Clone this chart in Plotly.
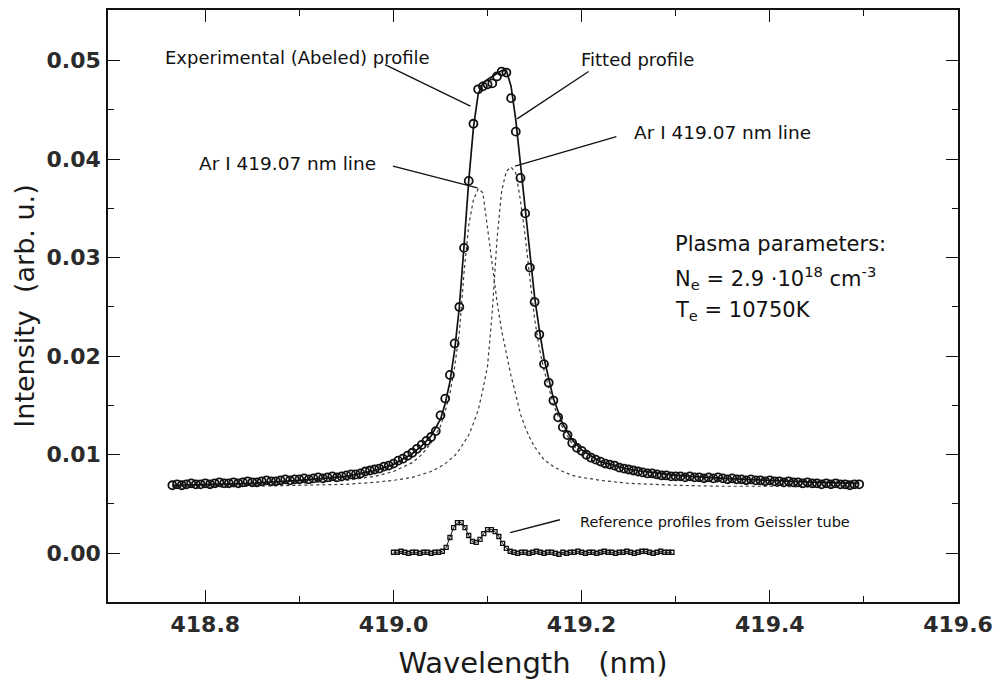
import numpy as np
import plotly.graph_objects as go

# ---- Measured (Abel-inverted) Ar I profile, sampled every 0.005 nm ----
exp_start = 418.765
exp_step = 0.005
exp_intensity = [
    0.0069, 0.0070, 0.0069, 0.0070, 0.0071, 0.0070, 0.0070, 0.0071, 0.0070, 0.0071,
    0.0072, 0.0071, 0.0071, 0.0072, 0.0071, 0.0072, 0.0073, 0.0072, 0.0072, 0.0073,
    0.0074, 0.0073, 0.0073, 0.0074, 0.0075, 0.0074, 0.0075, 0.0075, 0.0076, 0.0075,
    0.0076, 0.0077, 0.0076, 0.0077, 0.0078, 0.0077, 0.0078, 0.0079, 0.0080, 0.0080,
    0.0081, 0.0083, 0.0084, 0.0085, 0.0086, 0.0088, 0.0089, 0.0091, 0.0094, 0.0096,
    0.0099, 0.0102, 0.0106, 0.0110, 0.0114, 0.0118, 0.0124, 0.0140, 0.0157, 0.0181,
    0.0213, 0.0250, 0.0310, 0.0378, 0.0436, 0.0471, 0.0474, 0.0476, 0.0477, 0.0484,
    0.0489, 0.0488, 0.0462, 0.0428, 0.0381, 0.0345, 0.0290, 0.0255, 0.0222, 0.0192,
    0.0173, 0.0155, 0.0138, 0.0128, 0.0120, 0.0112, 0.0107, 0.0104, 0.0100, 0.0097,
    0.0095, 0.0093, 0.0091, 0.0090, 0.0089, 0.0087, 0.0086, 0.0085, 0.0084, 0.0083,
    0.0082, 0.0081, 0.0081, 0.0080, 0.0079, 0.0079, 0.0078, 0.0078, 0.0078, 0.0077,
    0.0078, 0.0077, 0.0077, 0.0076, 0.0077, 0.0076, 0.0077, 0.0076, 0.0075, 0.0076,
    0.0075, 0.0075, 0.0074, 0.0075, 0.0074, 0.0074, 0.0073, 0.0074, 0.0073, 0.0073,
    0.0072, 0.0073, 0.0072, 0.0072, 0.0071, 0.0072, 0.0071, 0.0071, 0.0070, 0.0071,
    0.0070, 0.0071, 0.0070, 0.0070, 0.0069, 0.0070, 0.0070,
]
exp_wl = np.round(exp_start + exp_step * np.arange(len(exp_intensity)), 4)

# ---- Fitted profile and its two line components ----
model_wl = [
    418.765, 418.80, 418.85, 418.90, 418.95, 418.98, 419.00, 419.02, 419.03, 419.04,
    419.05, 419.055, 419.06, 419.065, 419.07, 419.075, 419.08, 419.085, 419.09, 419.095,
    419.10, 419.105, 419.11, 419.115, 419.12, 419.125, 419.13, 419.135, 419.14, 419.145,
    419.15, 419.155, 419.16, 419.17, 419.18, 419.19, 419.20, 419.22, 419.25, 419.30,
    419.35, 419.40, 419.45, 419.495,
]
fit_profile = [
    0.0069, 0.0070, 0.0071, 0.0074, 0.0078, 0.0084, 0.0090, 0.0101, 0.0109, 0.0119,
    0.0136, 0.0152, 0.0174, 0.0206, 0.0250, 0.0312, 0.0378, 0.0432, 0.0466, 0.0477,
    0.0481, 0.0484, 0.0487, 0.0490, 0.0490, 0.0474, 0.0440, 0.0394, 0.0348, 0.0300,
    0.0260, 0.0227, 0.0198, 0.0157, 0.0131, 0.0115, 0.0105, 0.0093, 0.0085, 0.0079,
    0.0076, 0.0074, 0.0072, 0.0071,
]
line_left = [
    0.0068, 0.0069, 0.0069, 0.0071, 0.0074, 0.0078, 0.0083, 0.0092, 0.0100, 0.0112,
    0.0129, 0.0144, 0.0162, 0.0189, 0.0224, 0.0285, 0.0333, 0.0359, 0.0370, 0.0366,
    0.0330, 0.0293, 0.0256, 0.0226, 0.0202, 0.0180, 0.0161, 0.0141, 0.0128, 0.0117,
    0.0108, 0.0101, 0.0095, 0.0088, 0.0083, 0.0079, 0.0077, 0.0074, 0.0071, 0.0069,
    0.0068, 0.0068, 0.0067, 0.0067,
]
line_right = [
    0.0067, 0.0067, 0.0068, 0.0069, 0.0070, 0.0072, 0.0074, 0.0077, 0.0080, 0.0083,
    0.0088, 0.0091, 0.0095, 0.0099, 0.0105, 0.0112, 0.0120, 0.0132, 0.0145, 0.0166,
    0.0190, 0.0245, 0.0318, 0.0368, 0.0388, 0.0392, 0.0386, 0.0358, 0.0322, 0.0279,
    0.0238, 0.0208, 0.0186, 0.0151, 0.0127, 0.0111, 0.0100, 0.0089, 0.0081, 0.0075,
    0.0072, 0.0070, 0.0069, 0.0068,
]

# ---- Geissler-tube reference profile, sampled every 0.004 nm ----
ref_start = 419.000
ref_step = 0.004
ref_intensity = [
    0.0001, 0.0001, 0.0002, 0.0001, 0.0000, 0.0001, 0.0001, 0.0000, 0.0001, 0.0001,
    0.0000, 0.0001, 0.0001, 0.0002, 0.0006, 0.0016, 0.0026, 0.0031, 0.0031, 0.0026,
    0.0018, 0.0012, 0.0011, 0.0014, 0.0020, 0.0024, 0.0024, 0.0022, 0.0017, 0.0010,
    0.0005, 0.0002, 0.0001, 0.0000, 0.0001, 0.0001, 0.0000, 0.0001, 0.0002, 0.0001,
    0.0000, 0.0001, 0.0001, 0.0000, -0.0001, 0.0001, 0.0000, 0.0001, 0.0001, 0.0002,
    0.0001, 0.0000, 0.0001, 0.0001, 0.0000, 0.0001, 0.0002, 0.0001, 0.0001, 0.0000,
    0.0001, 0.0001, 0.0002, 0.0001, 0.0000, 0.0001, 0.0002, 0.0002, 0.0001, 0.0000,
    0.0001, 0.0002, 0.0001, 0.0001, 0.0001,
]
ref_wl = np.round(ref_start + ref_step * np.arange(len(ref_intensity)), 4)

x_ticks = [418.8, 419.0, 419.2, 419.4, 419.6]
y_ticks = [0.00, 0.01, 0.02, 0.03, 0.04, 0.05]

TEXT_FONT = "DejaVu Sans"
INK = "#111111"

fig = go.Figure()

fig.add_trace(go.Scatter(x=model_wl, y=line_left, mode="lines",
                         line=dict(color="#3a3a3a", width=1.2, dash="dot")))
fig.add_trace(go.Scatter(x=model_wl, y=line_right, mode="lines",
                         line=dict(color="#3a3a3a", width=1.2, dash="dot")))
fig.add_trace(go.Scatter(x=model_wl, y=fit_profile, mode="lines",
                         line=dict(color=INK, width=1.7)))
fig.add_trace(go.Scatter(x=exp_wl, y=exp_intensity, mode="markers",
                         marker=dict(symbol="circle-open", size=8, color=INK,
                                     line=dict(width=1.8, color=INK))))
fig.add_trace(go.Scatter(x=ref_wl, y=ref_intensity, mode="lines+markers",
                         line=dict(color=INK, width=1.0),
                         marker=dict(symbol="square-open", size=4, color=INK,
                                     line=dict(width=1.3, color=INK))))

# leader lines from the labels to the curves
leaders = [
    (418.991, 0.0496, 419.0818, 0.0454),
    (419.2074, 0.0489, 419.1314, 0.0441),
    (419.2369, 0.0423, 419.1293, 0.0393),
    (418.9995, 0.0393, 419.0892, 0.0371),
    (419.1768, 0.0034, 419.1240, 0.0021),
]
for x0, y0, x1, y1 in leaders:
    fig.add_shape(type="line", xref="x", yref="y", x0=x0, y0=y0, x1=x1, y1=y1,
                  line=dict(color=INK, width=1.3))

labels = [
    ("Experimental (Abeled) profile", 418.898, 0.0503, 18),
    ("Fitted profile", 419.259, 0.0501, 18),
    ("Ar I 419.07 nm line", 419.3495, 0.0427, 18.5),
    ("Ar I 419.07 nm line", 418.8875, 0.0396, 18.5),
    ("Reference profiles from Geissler tube", 419.3414, 0.0032, 14.5),
]
for text, x, y, size in labels:
    fig.add_annotation(text=text, x=x, y=y, xref="x", yref="y", showarrow=False,
                       xanchor="center", yanchor="middle",
                       font=dict(family=TEXT_FONT, size=size, color=INK))

params = [
    ("Plasma parameters:", 0.0314),
    ("N<sub>e</sub> = 2.9 \u00b710<sup>18</sup> cm<sup>-3</sup>", 0.0279),
    ("T<sub>e</sub> = 10750K", 0.0246),
]
for text, y in params:
    fig.add_annotation(text=text, x=419.2971, y=y, xref="x", yref="y", showarrow=False,
                       xanchor="left", yanchor="middle",
                       font=dict(family=TEXT_FONT, size=21, color=INK))

axis_common = dict(
    ticks="inside", ticklen=12, tickwidth=1.3, tickcolor=INK,
    showline=True, linecolor=INK, linewidth=1.6, mirror="ticks",
    showgrid=False, zeroline=False,
    tickfont=dict(family=TEXT_FONT, size=22, weight="bold", color="#2b2b2b"),
)

fig.update_xaxes(
    range=[418.6966, 419.6], tickvals=x_ticks, ticktext=[f"{v:.1f}" for v in x_ticks],
    minor=dict(ticks="inside", ticklen=6, tickwidth=1.2, tickcolor=INK,
               tickvals=[418.9, 419.1, 419.3, 419.5]),
    ticklabelstandoff=2,
    title=dict(text="Wavelength\u00a0\u00a0\u00a0(nm)",
               font=dict(family=TEXT_FONT, size=29, color="#1a1a1a"), standoff=16),
    **axis_common,
)
fig.update_yaxes(
    range=[-0.00495, 0.05515], tickvals=y_ticks, ticktext=[f"{v:.2f}" for v in y_ticks],
    minor=dict(ticks="inside", ticklen=6, tickwidth=1.2, tickcolor=INK,
               tickvals=[0.005, 0.015, 0.025, 0.035, 0.045]),
    ticklabelstandoff=1,
    title=dict(text="Intensity\u00a0\u00a0(arb.\u00a0u.)",
               font=dict(family=TEXT_FONT, size=27, color="#1a1a1a"), standoff=4),
    **axis_common,
)

fig.update_layout(
    width=1001, height=682,
    margin=dict(l=108, r=37, t=8, b=79),
    paper_bgcolor="white", plot_bgcolor="white",
    showlegend=False,
)

fig.write_html("out.html")
